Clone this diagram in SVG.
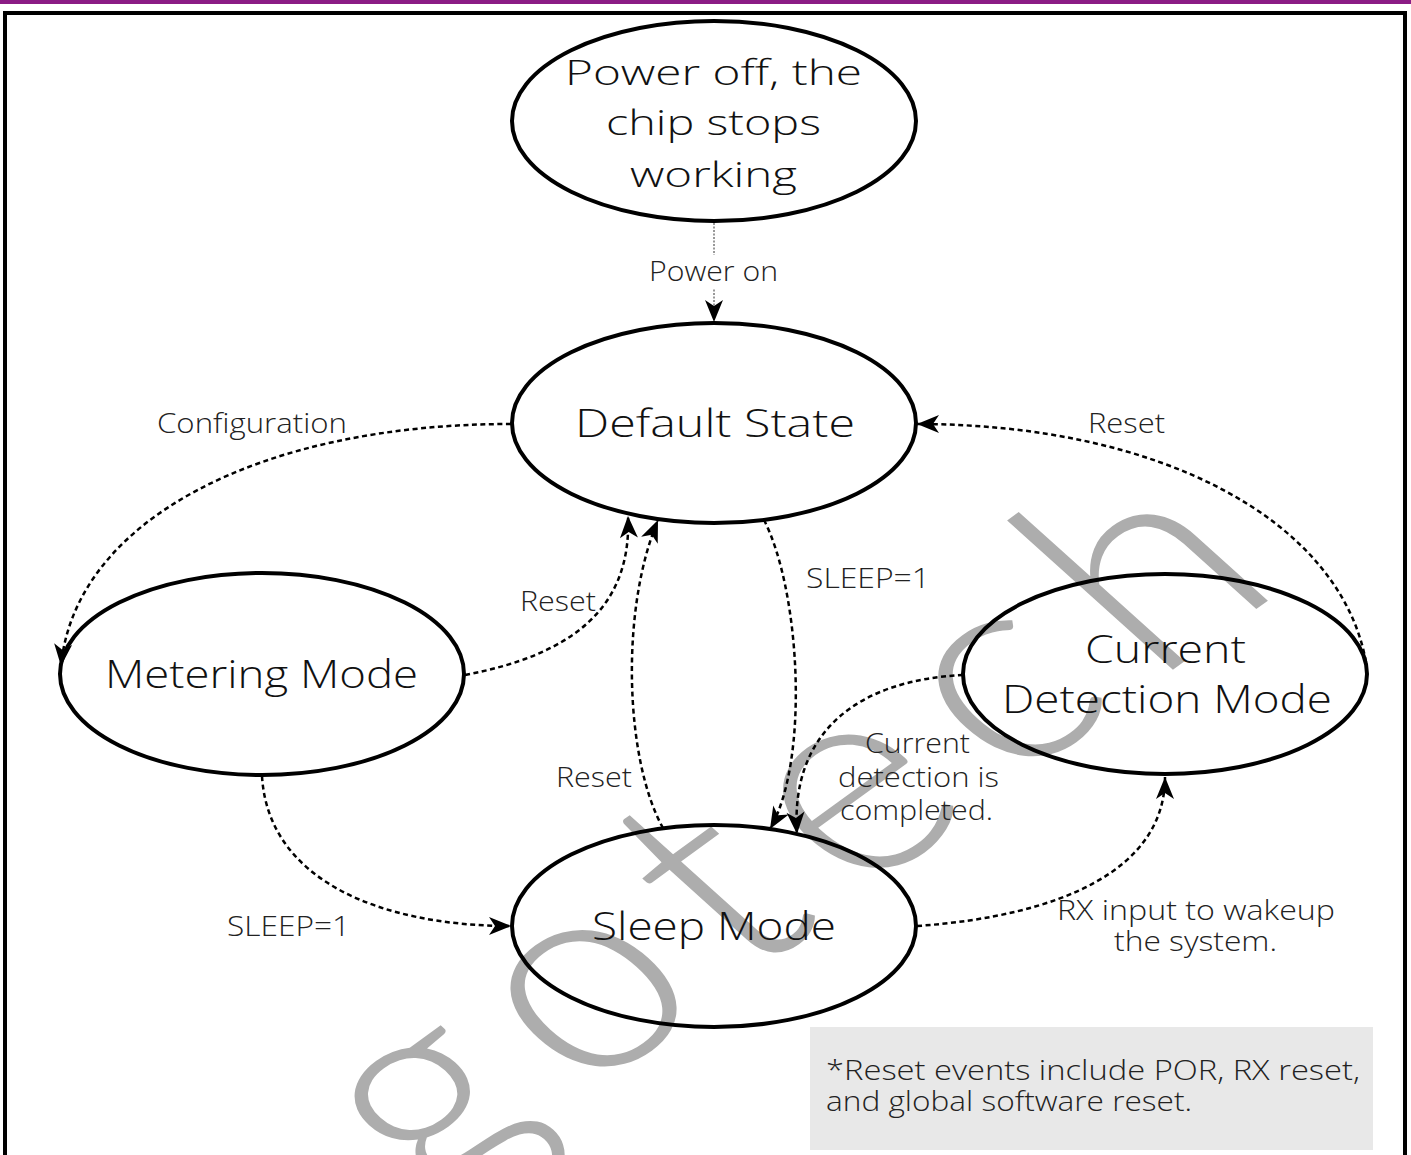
<svg xmlns="http://www.w3.org/2000/svg" width="1411" height="1155" viewBox="0 0 1411 1155">
<style>
  .node ellipse { fill: none; stroke: #000; stroke-width: 4; }
  .ntxt { font-family: "Open Sans", "Liberation Sans", sans-serif; font-weight: 300; font-size: 38px; fill: #111; text-anchor: middle; }
  .ptxt { font-family: "Open Sans", "Liberation Sans", sans-serif; font-weight: 300; font-size: 34px; fill: #111; text-anchor: middle; }
  .lbl { font-family: "Open Sans", "Liberation Sans", sans-serif; font-weight: 300; font-size: 27px; fill: #222; text-anchor: middle; }
  .edge { fill: none; stroke: #000; stroke-width: 2.5; stroke-dasharray: 5 3.5; marker-end: url(#arr); }
  .thin { fill: none; stroke: #333; stroke-width: 1; stroke-dasharray: 2 1.5; marker-end: url(#arr); }
  .wm { font-family: "Lato", "Open Sans", "Liberation Sans", sans-serif; font-weight: 300; font-size: 300px; fill: #adadad; }
</style>
<defs>
  <marker id="arr" markerUnits="userSpaceOnUse" markerWidth="24" markerHeight="20" refX="22" refY="9" orient="auto" overflow="visible">
    <path d="M0,0 L22,9 L0,18 L6,9 z" fill="#000"/>
  </marker>
</defs>
<rect x="0" y="0" width="1411" height="4" fill="#8B1C85"/>
<rect x="5" y="13" width="1400" height="1160" fill="none" stroke="#000" stroke-width="4"/>

<g id="watermark">
  <text class="wm" transform="translate(432,1208) rotate(-36) skewX(12)" letter-spacing="35">gotech</text>
</g>

<g id="connectors">
  <path class="thin" d="M714 223 L714 322"/>
  <path class="edge" d="M511 424 C260 424 75 520 61 666"/>
  <path class="edge" d="M465 675 C570 655 632 610 628 516"/>
  <path class="edge" d="M663 828 C625 760 620 610 658 520"/>
  <path class="edge" d="M764 520 C800 590 810 760 770 829"/>
  <path class="edge" d="M963 675 C860 680 790 730 797 834"/>
  <path class="edge" d="M262 776 C268 880 380 926 511 926"/>
  <path class="edge" d="M917 926 C1060 916 1165 870 1165 777"/>
  <path class="edge" d="M1366 662 C1340 520 1160 424 917 424"/>
</g>

<g id="labels">
  <rect x="645" y="255" width="138" height="34" fill="#fff"/>
  <text class="lbl" x="713.5" y="281" textLength="129" lengthAdjust="spacingAndGlyphs">Power on</text>
  <text class="lbl" x="252" y="433" textLength="190" lengthAdjust="spacingAndGlyphs">Configuration</text>
  <text class="lbl" x="1126.5" y="433" textLength="77" lengthAdjust="spacingAndGlyphs">Reset</text>
  <text class="lbl" x="558" y="611" textLength="76" lengthAdjust="spacingAndGlyphs">Reset</text>
  <text class="lbl" x="868" y="588" textLength="124" lengthAdjust="spacingAndGlyphs">SLEEP=1</text>
  <text class="lbl" x="594" y="787" textLength="76" lengthAdjust="spacingAndGlyphs">Reset</text>
  <text class="lbl" x="917.5" y="753" textLength="105" lengthAdjust="spacingAndGlyphs">Current</text>
  <text class="lbl" x="918.5" y="787" textLength="161" lengthAdjust="spacingAndGlyphs">detection is</text>
  <text class="lbl" x="916.5" y="820" textLength="153" lengthAdjust="spacingAndGlyphs">completed.</text>
  <text class="lbl" x="288.5" y="936" textLength="123" lengthAdjust="spacingAndGlyphs">SLEEP=1</text>
  <text class="lbl" x="1196" y="920" textLength="278" lengthAdjust="spacingAndGlyphs">RX input to wakeup</text>
  <text class="lbl" x="1195.5" y="951" textLength="163" lengthAdjust="spacingAndGlyphs">the system.</text>
</g>

<g id="node-poweroff" class="node">
  <ellipse cx="714" cy="121" rx="202" ry="100"/>
  <text class="ptxt" x="713.5" y="85" textLength="297" lengthAdjust="spacingAndGlyphs">Power off, the</text>
  <text class="ptxt" x="713.5" y="135" textLength="215" lengthAdjust="spacingAndGlyphs">chip stops</text>
  <text class="ptxt" x="713.5" y="187" textLength="167" lengthAdjust="spacingAndGlyphs">working</text>
</g>
<g id="node-default" class="node">
  <ellipse cx="714" cy="423" rx="202" ry="100"/>
  <text class="ntxt" x="715" y="437" textLength="280" lengthAdjust="spacingAndGlyphs">Default State</text>
</g>
<g id="node-metering" class="node">
  <ellipse cx="262" cy="674" rx="202" ry="101"/>
  <text class="ntxt" x="261.5" y="688" textLength="313" lengthAdjust="spacingAndGlyphs">Metering Mode</text>
</g>
<g id="node-current" class="node">
  <ellipse cx="1165" cy="674" rx="202" ry="100"/>
  <text class="ntxt" x="1165.5" y="663" textLength="161" lengthAdjust="spacingAndGlyphs">Current</text>
  <text class="ntxt" x="1167" y="713" textLength="330" lengthAdjust="spacingAndGlyphs">Detection Mode</text>
</g>
<g id="node-sleep" class="node">
  <ellipse cx="714" cy="926" rx="202" ry="101"/>
  <text class="ntxt" x="714" y="940" textLength="244" lengthAdjust="spacingAndGlyphs">Sleep Mode</text>
</g>

<g id="note">
  <rect x="810" y="1027" width="563" height="123" fill="#e8e8e8"/>
  <text class="lbl" x="826" y="1080" style="text-anchor:start" textLength="534" lengthAdjust="spacingAndGlyphs">*Reset events include POR, RX reset,</text>
  <text class="lbl" x="826" y="1111" style="text-anchor:start" textLength="366" lengthAdjust="spacingAndGlyphs">and global software reset.</text>
</g>
</svg>
